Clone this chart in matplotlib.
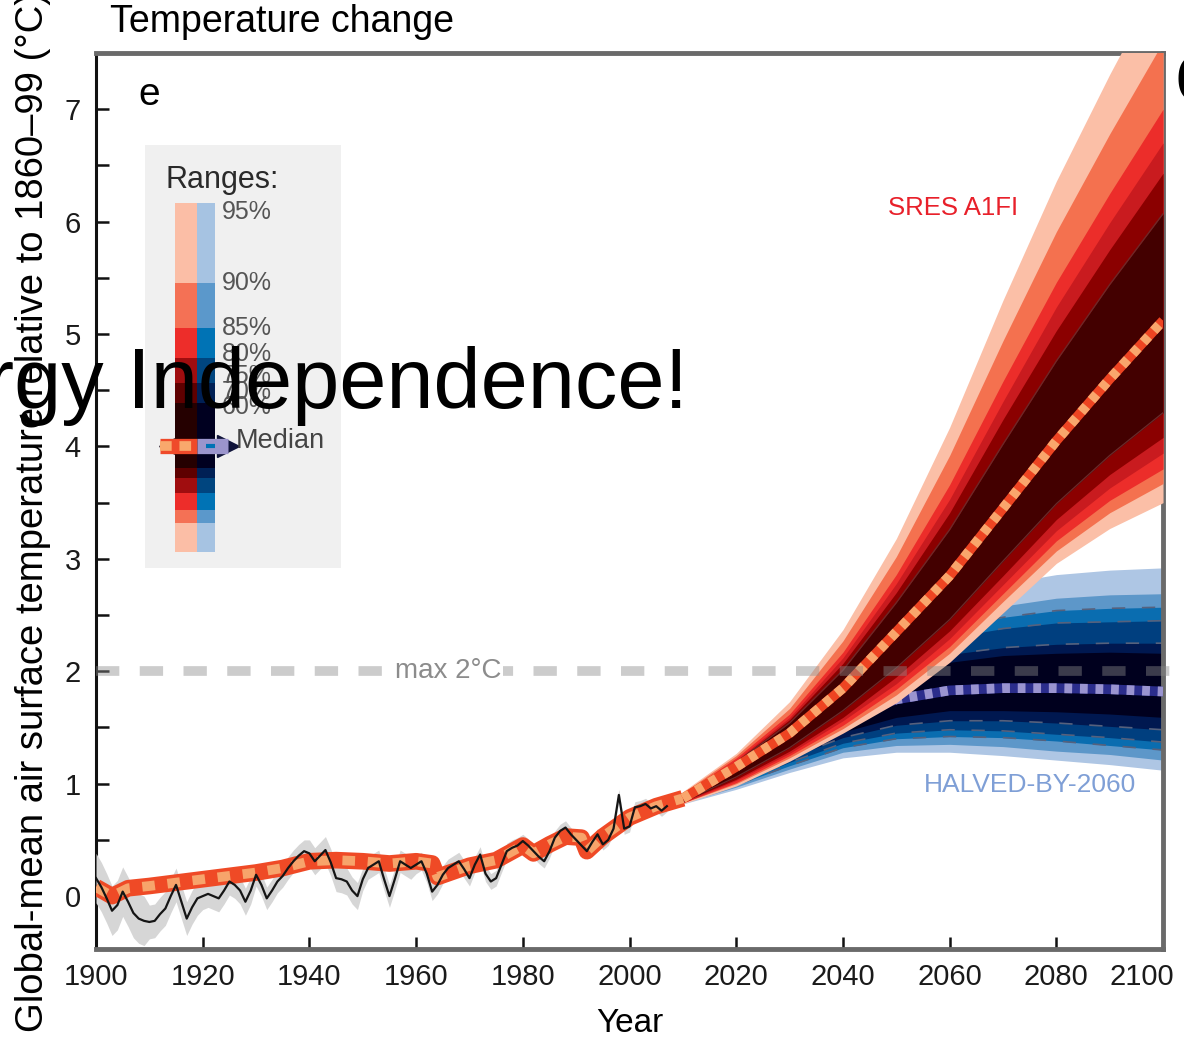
import numpy as np
import matplotlib.pyplot as plt
import matplotlib.transforms as mtransforms
from matplotlib.ticker import MultipleLocator

plt.rcParams['font.family'] = ['Liberation Sans', 'DejaVu Sans']

# observed global-mean temperature (annual, 1900-2007)
obs_years = np.arange(1900, 2008)
obs_temp = [0.16, 0.08, -0.02, -0.13, -0.08, 0.04, -0.05, -0.15, -0.20, -0.22,
            -0.23, -0.22, -0.16, -0.11, 0.00, 0.10, -0.05, -0.20, -0.10, -0.02,
            0.00, 0.02, 0.00, -0.02, 0.05, 0.13, 0.10, 0.05, -0.05, 0.05,
            0.19, 0.10, -0.02, 0.05, 0.13, 0.18, 0.25, 0.31, 0.36, 0.40,
            0.38, 0.31, 0.36, 0.41, 0.30, 0.16, 0.15, 0.13, 0.05, 0.00,
            0.15, 0.25, 0.28, 0.31, 0.15, 0.00, 0.15, 0.31, 0.28, 0.25,
            0.28, 0.31, 0.20, 0.04, 0.10, 0.19, 0.25, 0.28, 0.31, 0.24,
            0.16, 0.28, 0.37, 0.20, 0.13, 0.16, 0.28, 0.40, 0.43, 0.45,
            0.49, 0.45, 0.40, 0.35, 0.31, 0.40, 0.52, 0.58, 0.61, 0.55,
            0.50, 0.45, 0.40, 0.48, 0.55, 0.46, 0.50, 0.60, 0.90, 0.60,
            0.62, 0.79, 0.80, 0.82, 0.78, 0.80, 0.76, 0.80]
obs_err_decade = [0.22, 0.15, 0.12, 0.10, 0.12, 0.10, 0.08, 0.07, 0.06, 0.05, 0.05]

# simulated historical median
hist_years = [1900, 1903, 1906, 1910, 1915, 1920, 1925, 1930, 1935, 1940, 1945,
              1950, 1955, 1960, 1963, 1964, 1967, 1970, 1975, 1980, 1982, 1985,
              1988, 1991, 1992, 1995, 2000, 2005, 2010]
hist_temp = [0.08, 0.00, 0.07, 0.09, 0.12, 0.15, 0.18, 0.21, 0.25, 0.31, 0.32,
             0.31, 0.29, 0.31, 0.29, 0.17, 0.22, 0.27, 0.32, 0.45, 0.38, 0.46,
             0.53, 0.52, 0.40, 0.53, 0.70, 0.80, 0.87]

# projections
proj_years = [2010, 2020, 2030, 2040, 2050, 2060, 2070, 2080, 2090, 2100]

# SRES A1FI
a1fi_med = [0.87, 1.15, 1.45, 1.85, 2.35, 2.85, 3.45, 4.05, 4.60, 5.12]
a1fi_q95u = [0.93, 1.27, 1.73, 2.37, 3.18, 4.17, 5.30, 6.36, 7.31, 8.20]
a1fi_q90u = [0.92, 1.25, 1.67, 2.27, 3.02, 3.92, 4.94, 5.91, 6.78, 7.60]
a1fi_q85u = [0.91, 1.23, 1.62, 2.17, 2.86, 3.66, 4.58, 5.46, 6.25, 7.00]
a1fi_q80u = [0.90, 1.21, 1.59, 2.12, 2.78, 3.53, 4.40, 5.24, 5.99, 6.70]
a1fi_q75u = [0.90, 1.20, 1.57, 2.07, 2.70, 3.41, 4.24, 5.03, 5.75, 6.43]
a1fi_q70u = [0.89, 1.19, 1.54, 2.01, 2.61, 3.26, 4.02, 4.76, 5.44, 6.07]
a1fi_q70l = [0.84, 1.06, 1.32, 1.65, 2.03, 2.46, 2.98, 3.49, 3.92, 4.30]
a1fi_q75l = [0.84, 1.04, 1.29, 1.59, 1.95, 2.36, 2.85, 3.35, 3.75, 4.08]
a1fi_q80l = [0.83, 1.03, 1.27, 1.56, 1.89, 2.29, 2.77, 3.25, 3.63, 3.94]
a1fi_q85l = [0.83, 1.01, 1.25, 1.52, 1.84, 2.22, 2.69, 3.16, 3.52, 3.80]
a1fi_q90l = [0.83, 1.00, 1.23, 1.49, 1.79, 2.16, 2.62, 3.07, 3.41, 3.67]
a1fi_q95l = [0.82, 0.98, 1.20, 1.45, 1.72, 2.08, 2.52, 2.96, 3.27, 3.50]

# HALVED-BY-2060
halved_med = [0.87, 1.10, 1.35, 1.58, 1.75, 1.83, 1.85, 1.85, 1.84, 1.82]
halved_q95u = [0.92, 1.20, 1.55, 2.00, 2.40, 2.65, 2.78, 2.86, 2.90, 2.92]
halved_q90u = [0.91, 1.18, 1.51, 1.91, 2.26, 2.48, 2.58, 2.65, 2.68, 2.69]
halved_q85u = [0.90, 1.17, 1.49, 1.87, 2.19, 2.39, 2.48, 2.54, 2.56, 2.57]
halved_q80u = [0.90, 1.16, 1.46, 1.82, 2.12, 2.30, 2.38, 2.43, 2.44, 2.45]
halved_q75u = [0.89, 1.14, 1.43, 1.74, 2.00, 2.15, 2.21, 2.24, 2.25, 2.25]
halved_q70u = [0.89, 1.13, 1.41, 1.71, 1.95, 2.08, 2.14, 2.16, 2.17, 2.16]
halved_q70l = [0.85, 1.05, 1.27, 1.46, 1.59, 1.65, 1.65, 1.64, 1.62, 1.59]
halved_q75l = [0.85, 1.03, 1.23, 1.41, 1.52, 1.56, 1.56, 1.54, 1.51, 1.48]
halved_q80l = [0.84, 1.00, 1.19, 1.36, 1.45, 1.48, 1.47, 1.44, 1.41, 1.37]
halved_q85l = [0.83, 0.99, 1.16, 1.32, 1.40, 1.42, 1.41, 1.38, 1.34, 1.30]
halved_q90l = [0.83, 0.97, 1.13, 1.28, 1.34, 1.35, 1.33, 1.29, 1.26, 1.21]
halved_q95l = [0.82, 0.95, 1.10, 1.23, 1.28, 1.28, 1.25, 1.21, 1.17, 1.12]

red_cols = ['#fbbfa7', '#f4714f', '#ec2d2a', '#c91b1f', '#8b0000', '#430000']
blue_cols = ['#aec6e4', '#5d97c9', '#0a6db0', '#003f7f', '#001850', '#00001e']
red_leg = ['#fbbea6', '#f47155', '#ed2d2a', '#a00d0f', '#5e0000', '#250000']
blue_leg = ['#a6c3e2', '#5b98cb', '#0073b5', '#00457f', '#002055', '#000020']
range_labels = ['95%', '90%', '85%', '80%', '75%', '70%', '60%']

fig = plt.figure(figsize=(11.84, 10.37), dpi=100)
ax = fig.add_axes([0.0811, 0.0849, 0.9012, 0.8640])

# blue bands
blue_upper = [halved_q95u, halved_q90u, halved_q85u, halved_q80u, halved_q75u, halved_q70u]
blue_lower = [halved_q95l, halved_q90l, halved_q85l, halved_q80l, halved_q75l, halved_q70l]
for lo, up, c in zip(blue_lower, blue_upper, blue_cols):
    ax.fill_between(proj_years, lo, up, color=c, lw=0, zorder=2)
for q in [halved_q85u, halved_q80u, halved_q75u, halved_q75l, halved_q80l, halved_q85l]:
    ax.plot(proj_years, q, color='#56617d', lw=1.2, dashes=(8, 10), zorder=2.5)
ax.plot(proj_years, halved_med, color='#2b2d8c', lw=7, solid_capstyle='butt', zorder=3)
ax.plot(proj_years, halved_med, color='#9a94d0', lw=7, dashes=(0.8, 0.8), zorder=3)

# observed uncertainty
err = np.repeat(obs_err_decade, 10)[:len(obs_years)]
ax.fill_between(obs_years, np.array(obs_temp) - err, np.array(obs_temp) + err,
                color='#d6d6d6', lw=0, zorder=3)

# red bands
red_upper = [a1fi_q95u, a1fi_q90u, a1fi_q85u, a1fi_q80u, a1fi_q75u, a1fi_q70u]
red_lower = [a1fi_q95l, a1fi_q90l, a1fi_q85l, a1fi_q80l, a1fi_q75l, a1fi_q70l]
for lo, up, c in zip(red_lower, red_upper, red_cols):
    ax.fill_between(proj_years, lo, up, color=c, lw=0, zorder=4)
for q in [a1fi_q70u, a1fi_q70l]:
    ax.plot(proj_years, q, color='#6a2a2a', lw=0.9, zorder=4.2)
ax.plot(proj_years, a1fi_med, color='#ee4422', lw=7, solid_capstyle='butt', zorder=5)
ax.plot(proj_years, a1fi_med, color='#f9a66c', lw=7, dashes=(0.8, 0.8), zorder=5)

# historical simulation
ax.plot(hist_years, hist_temp, color='#ef4a26', lw=12, solid_capstyle='butt', zorder=4.5)
ax.plot(hist_years, hist_temp, color='#f7a46b', lw=7, dashes=(1.3, 1.3), zorder=4.6)

# observations
ax.plot(obs_years, obs_temp, color='#151515', lw=1.6, zorder=6)

# 2 degree limit
ax.plot([1900, 2107], [2, 2], color='#8a8a8a', alpha=0.43, lw=7,
        dashes=(2.4, 2.1), solid_capstyle='butt', clip_on=False, zorder=7)
ax.text(1966, 2, 'max 2°C', color='#8c8c8c', fontsize=20, ha='center', va='center',
        bbox=dict(facecolor='white', edgecolor='none', pad=1), zorder=8)

ax.text(2060.6, 6.12, 'SRES A1FI', color='#e8202a', fontsize=18.5, ha='center', va='center')
ax.text(2075, 0.99, 'HALVED-BY-2060', color='#7f9fd6', fontsize=19, ha='center', va='center')
ax.text(0.05, 0.953, 'e', transform=ax.transAxes, fontsize=28, ha='center', va='center')

ax.set_xlim(1900, 2100)
ax.set_ylim(-0.47, 7.5)
ax.set_xticks(range(1900, 2101, 20))
ax.set_yticks(range(0, 8))
ax.yaxis.set_minor_locator(MultipleLocator(0.5))
ax.tick_params(which='both', direction='in', length=9, width=1.8, color='#111')
ax.tick_params(axis='x', labelsize=21, pad=10, labelcolor='#1a1a1a')
ax.tick_params(axis='y', labelsize=21, pad=11, labelcolor='#1a1a1a')
ax.spines['left'].set(color='#111111', linewidth=2.2)
for s in ['top', 'right', 'bottom']:
    ax.spines[s].set(color='#6a6a6a', linewidth=3.5)
ax.set_xlabel('Year', fontsize=24, labelpad=12)

# pull the last year label back inside the figure
last = ax.get_xticklabels()[-1]
last.set_transform(last.get_transform() + mtransforms.ScaledTranslation(-21 / 100, 0, fig.dpi_scale_trans))

fig.text(110 / 1184, 1 - 22 / 1037, 'Temperature change', fontsize=27, ha='left', va='center')
fig.text(33 / 1184, 1 - 512 / 1037, 'Global-mean air surface temperature relative to 1860\u201399 (°C)',
         fontsize=27.5, rotation=90, ha='center', va='center')

# legend panel
leg = fig.add_axes([145 / 1184, 1 - 568 / 1037, 196 / 1184, 423 / 1037])
leg.set_facecolor('#f0f0f0')
leg.set_xlim(145, 341)
leg.set_ylim(568, 145)
leg.set_xticks([])
leg.set_yticks([])
for s in leg.spines.values():
    s.set_visible(False)
edges_up = [203, 283, 328, 358, 383, 403]
edges_lo = [552, 523, 510, 493, 478, 468]
for i in range(5):
    leg.bar(186, edges_up[i + 1] - edges_up[i], bottom=edges_up[i], width=22, color=red_leg[i], zorder=2)
    leg.bar(206, edges_up[i + 1] - edges_up[i], bottom=edges_up[i], width=18, color=blue_leg[i], zorder=2)
    leg.bar(186, edges_lo[i] - edges_lo[i + 1], bottom=edges_lo[i + 1], width=22, color=red_leg[i], zorder=2)
    leg.bar(206, edges_lo[i] - edges_lo[i + 1], bottom=edges_lo[i + 1], width=18, color=blue_leg[i], zorder=2)
leg.bar(186, edges_lo[-1] - edges_up[-1], bottom=edges_up[-1], width=22, color=red_leg[5], zorder=2)
leg.bar(206, edges_lo[-1] - edges_up[-1], bottom=edges_up[-1], width=18, color=blue_leg[5], zorder=2)
leg.plot([170], [446], marker='<', ms=16, color='#3a2a3a', zorder=1)
leg.plot([228], [446], marker='>', ms=16, color='#10143a', zorder=1)
leg.plot([160, 197], [446, 446], color='#ef4a2a', lw=11, solid_capstyle='butt', zorder=3)
leg.plot([160, 197], [446, 446], color='#f9a86c', lw=7, dashes=(1.2, 0.8), zorder=3)
leg.plot([197, 228], [446, 446], color='#9b95cc', lw=11, solid_capstyle='butt', zorder=3)
leg.plot([206, 215], [446, 446], color='#0072b5', lw=3, solid_capstyle='butt', zorder=3)
leg.text(166, 188, 'Ranges:', fontsize=22, color='#2a2a2a', ha='left', va='baseline')
for lab, y in zip(range_labels, [212, 283, 328, 354, 376, 392, 407]):
    leg.text(222, y, lab, fontsize=18, color='#555555', ha='left', va='center')
leg.text(236, 441, 'Median', fontsize=19.5, color='#444444', ha='left', va='center')

# overlay banner text
fig.text(688 / 1184, 1 - 408 / 1037, 'Energy Independence!', fontsize=61,
         ha='right', va='baseline', color='black', zorder=10)
fig.text(1174 / 1184, 1 - 101 / 1037, 'o', fontsize=61, ha='left', va='baseline',
         color='black', zorder=10)

fig.savefig('out.png', dpi=100)
